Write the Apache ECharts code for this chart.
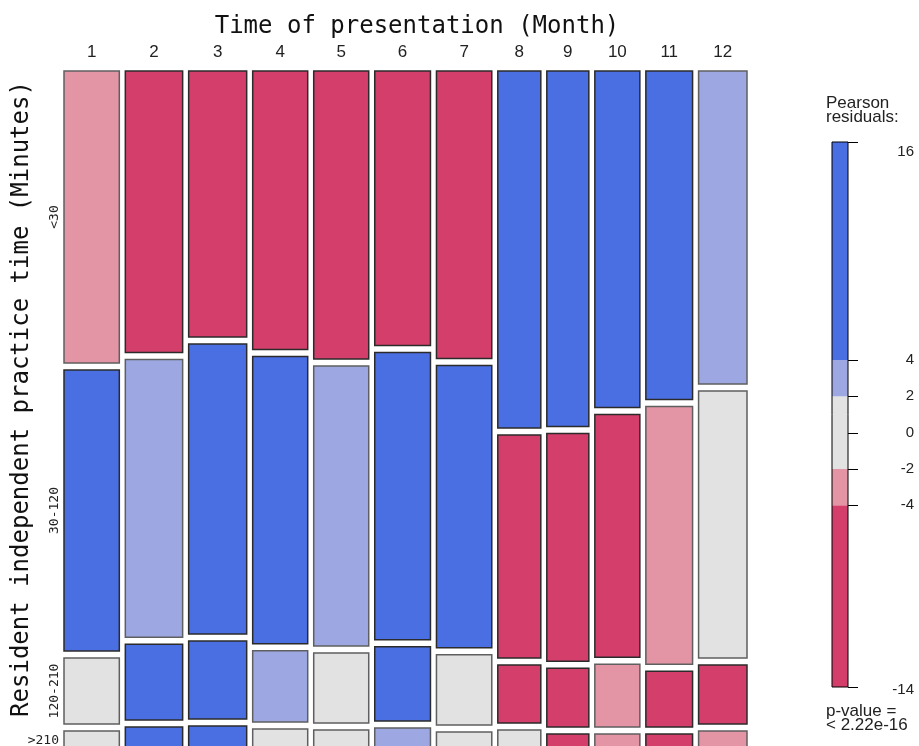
<!DOCTYPE html>
<html lang="en">
<head>
  <meta charset="UTF-8">
  <title>Mosaic plot - practice time by month</title>
  <style>
    body {
      margin: 0;
      padding: 0;
      background-color: #fff;
      overflow: hidden;
    }
    #chart {
      width: 919px;
      height: 780px;
    }
  </style>
  <script src="https://cdn.jsdelivr.net/npm/echarts@6.0.0/dist/echarts.min.js"></script>
</head>
<body>
  <div id="chart"></div>

  <script>
    // months (columns) and practice-time levels (rows)
    var months = ['1', '2', '3', '4', '5', '6', '7', '8', '9', '10', '11', '12'];
    var rowLevels = ['<30', '30-120', '120-210', '>210'];

    // relative column widths (month totals)
    var monthTotals = [55.3, 57.3, 58, 55, 55, 55.7, 55.3, 43, 42, 45, 46.7, 48.4];

    // relative heights within each month, one array per row level
    var share_lt30   = [292, 282, 266, 278, 288, 274, 287, 357, 356, 337, 329, 313];
    var share_30_120 = [281, 278, 290, 287, 280, 287, 282, 223, 228, 243, 258, 267];
    var share_120_210 = [66, 76, 78, 71, 70, 74, 70, 58, 59, 63, 56, 59];
    var share_gt210  = [35, 39, 40, 37, 36, 38, 34, 36, 32, 32, 32, 35];

    // Pearson residuals per cell
    var resid_lt30   = [-3, -8, -10, -7, -6, -9, -6, 12, 13, 10, 9, 3];
    var resid_30_120 = [5, 3, 6, 5, 3, 6, 5, -8, -7, -5, -3.5, 1];
    var resid_120_210 = [0.5, 5, 5, 3, 1, 4.5, 1, -6, -5, -3, -5, -4.5];
    var resid_gt210  = [-1, 6, 6, 0, 1, 3, 0, -1, -4.5, -2.5, -4.5, -3];

    // legend scale
    var legendTicks = [16, 4, 2, 0, -2, -4, -14];
    var legendBands = [[-14, -4], [-4, -2], [-2, 2], [2, 4], [4, 16]];

    var shares = [share_lt30, share_30_120, share_120_210, share_gt210];
    var resids = [resid_lt30, resid_30_120, resid_120_210, resid_gt210];

    var xGap = 6;          // in month-total units
    var yGap = 7 / 674;    // fraction of a column

    // build mosaic tiles: [x0, x1, y0, y1, residual, row, month]
    var tiles = [];
    var centers = [];
    var x = 0;
    months.forEach(function (m, i) {
      var w = monthTotals[i];
      var sum = 0;
      shares.forEach(function (s) { sum += s[i]; });
      var y = 0;
      shares.forEach(function (s, r) {
        var h = s[i] / sum;
        tiles.push([x, x + w, y, y + h, resids[r][i], r, i]);
        y += h + yGap;
      });
      centers.push(x + w / 2);
      x += w + xGap;
    });
    var xMax = x - xGap;
    var yMax = 1 + 3 * yGap;

    var legendData = legendBands.map(function (b) {
      return [0, 1, b[0], b[1], (b[0] + b[1]) / 2];
    });

    function rectOf(api) {
      var p0 = api.coord([api.value(0), api.value(2)]);
      var p1 = api.coord([api.value(1), api.value(3)]);
      return {
        x: p0[0],
        y: Math.min(p0[1], p1[1]),
        width: p1[0] - p0[0],
        height: Math.abs(p1[1] - p0[1])
      };
    }

    function renderTile(params, api) {
      var r = api.value(4);
      return {
        type: 'rect',
        shape: rectOf(api),
        style: {
          fill: api.visual('color'),
          stroke: Math.abs(r) > 4 ? '#2b2b2b' : '#5f5f5f',
          lineWidth: 1.5
        }
      };
    }

    function renderBand(params, api) {
      return { type: 'rect', shape: rectOf(api), style: { fill: api.visual('color') } };
    }

    function renderOutline(params, api) {
      return { type: 'rect', shape: rectOf(api), style: { fill: null, stroke: '#000', lineWidth: 1 } };
    }

    function renderTick(params, api) {
      var p = api.coord([1, api.value(0)]);
      var y = Math.round(p[1]) + 0.5;
      return {
        type: 'line',
        shape: { x1: p[0], y1: y, x2: p[0] + 10, y2: y },
        style: { stroke: '#000', lineWidth: 1 }
      };
    }

    var sans = 'Liberation Sans, Arial, sans-serif';
    var chart = echarts.init(document.getElementById('chart'));
    chart.setOption({
      animation: false,
      backgroundColor: '#fff',
      grid: [
        { left: 64, top: 71, width: 683, height: 695, outerBoundsMode: 'none' },
        { left: 832, top: 142, width: 16, height: 545, outerBoundsMode: 'none' }
      ],
      xAxis: [
        {
          gridIndex: 0,
          type: 'value',
          position: 'top',
          min: 0,
          max: xMax,
          axisLine: { show: false },
          axisTick: { show: false },
          splitLine: { show: false },
          axisLabel: {
            customValues: centers,
            margin: 10,
            fontFamily: sans,
            fontSize: 17,
            color: '#222',
            formatter: function (v) {
              var best = 0;
              centers.forEach(function (c, i) {
                if (Math.abs(c - v) < Math.abs(centers[best] - v)) best = i;
              });
              return months[best];
            }
          }
        },
        {
          gridIndex: 1,
          type: 'value',
          min: 0,
          max: 1,
          show: false
        }
      ],
      yAxis: [
        {
          gridIndex: 0,
          type: 'value',
          inverse: true,
          min: 0,
          max: yMax,
          show: false
        },
        {
          gridIndex: 1,
          type: 'value',
          position: 'right',
          min: -14,
          max: 16,
          splitLine: { show: false },
          axisLine: { show: false },
          axisTick: { show: false },
          axisLabel: {
            customValues: legendTicks,
            align: 'right',
            margin: 66,
            fontFamily: sans,
            fontSize: 15,
            color: '#222',
            formatter: function (v) {
              if (v === 16) return '{top|16}';
              if (v === -14) return '{bot|-14}';
              return String(v);
            },
            rich: {
              top: { fontFamily: sans, fontSize: 15, color: '#222', padding: [20, 0, 0, 0] },
              bot: { fontFamily: sans, fontSize: 15, color: '#222', padding: [6, 0, 0, 0] }
            }
          }
        }
      ],
      visualMap: {
        type: 'piecewise',
        show: false,
        seriesIndex: [0, 1],
        dimension: 4,
        pieces: [
          { gt: 4, color: '#4A6FE3' },
          { gt: 2, lte: 4, color: '#9DA8E2' },
          { gte: -2, lte: 2, color: '#E2E2E2' },
          { gte: -4, lt: -2, color: '#E495A5' },
          { lt: -4, color: '#D33F6A' }
        ]
      },
      series: [
        {
          type: 'custom',
          xAxisIndex: 0,
          yAxisIndex: 0,
          renderItem: renderTile,
          encode: { x: [0, 1], y: [2, 3] },
          data: tiles
        },
        {
          type: 'custom',
          xAxisIndex: 1,
          yAxisIndex: 1,
          renderItem: renderBand,
          encode: { x: [0, 1], y: [2, 3] },
          data: legendData
        },
        {
          type: 'custom',
          xAxisIndex: 1,
          yAxisIndex: 1,
          renderItem: renderOutline,
          encode: { x: [0, 1], y: [2, 3] },
          data: [[0, 1, -14, 16]],
          z: 3
        },
        {
          type: 'custom',
          xAxisIndex: 1,
          yAxisIndex: 1,
          renderItem: renderTick,
          encode: { y: 0 },
          data: legendTicks.map(function (t) { return [t]; }),
          z: 3
        }
      ]
    });

    // row labels sit at the middle of the first month's tiles
    var mono = 'DejaVu Sans Mono, monospace';
    var graphics = [];
    tiles.filter(function (t) { return t[6] === 0; }).forEach(function (t) {
      var py = chart.convertToPixel({ gridIndex: 0 }, [0, (t[2] + t[3]) / 2])[1];
      var label = rowLevels[t[5]];
      if (label === '>210') {
        graphics.push({
          type: 'text', x: 59, y: 741,
          style: { text: label, font: '13px ' + mono, fill: '#222', align: 'right', verticalAlign: 'middle' }
        });
      } else {
        graphics.push({
          type: 'text', x: 55, y: py, rotation: Math.PI / 2,
          style: { text: label, font: '13px ' + mono, fill: '#222', align: 'center', verticalAlign: 'middle' }
        });
      }
    });
    graphics.push(
      {
        type: 'text', x: 417, y: 27,
        style: { text: 'Time of presentation (Month)', font: '24px ' + mono, fill: '#111', align: 'center', verticalAlign: 'middle' }
      },
      {
        type: 'text', x: 22, y: 399, rotation: Math.PI / 2,
        style: { text: 'Resident independent practice time (Minutes)', font: '24px ' + mono, fill: '#111', align: 'center', verticalAlign: 'middle' }
      },
      {
        type: 'text', x: 826, y: 96,
        style: { text: 'Pearson\nresiduals:', font: '17px ' + sans, lineHeight: 14, fill: '#222', align: 'left', verticalAlign: 'top' }
      },
      {
        type: 'text', x: 826, y: 704,
        style: { text: 'p-value =\n< 2.22e-16', font: '17px ' + sans, lineHeight: 14, fill: '#222', align: 'left', verticalAlign: 'top' }
      }
    );
    chart.setOption({ graphic: graphics });
  </script>
</body>
</html>
